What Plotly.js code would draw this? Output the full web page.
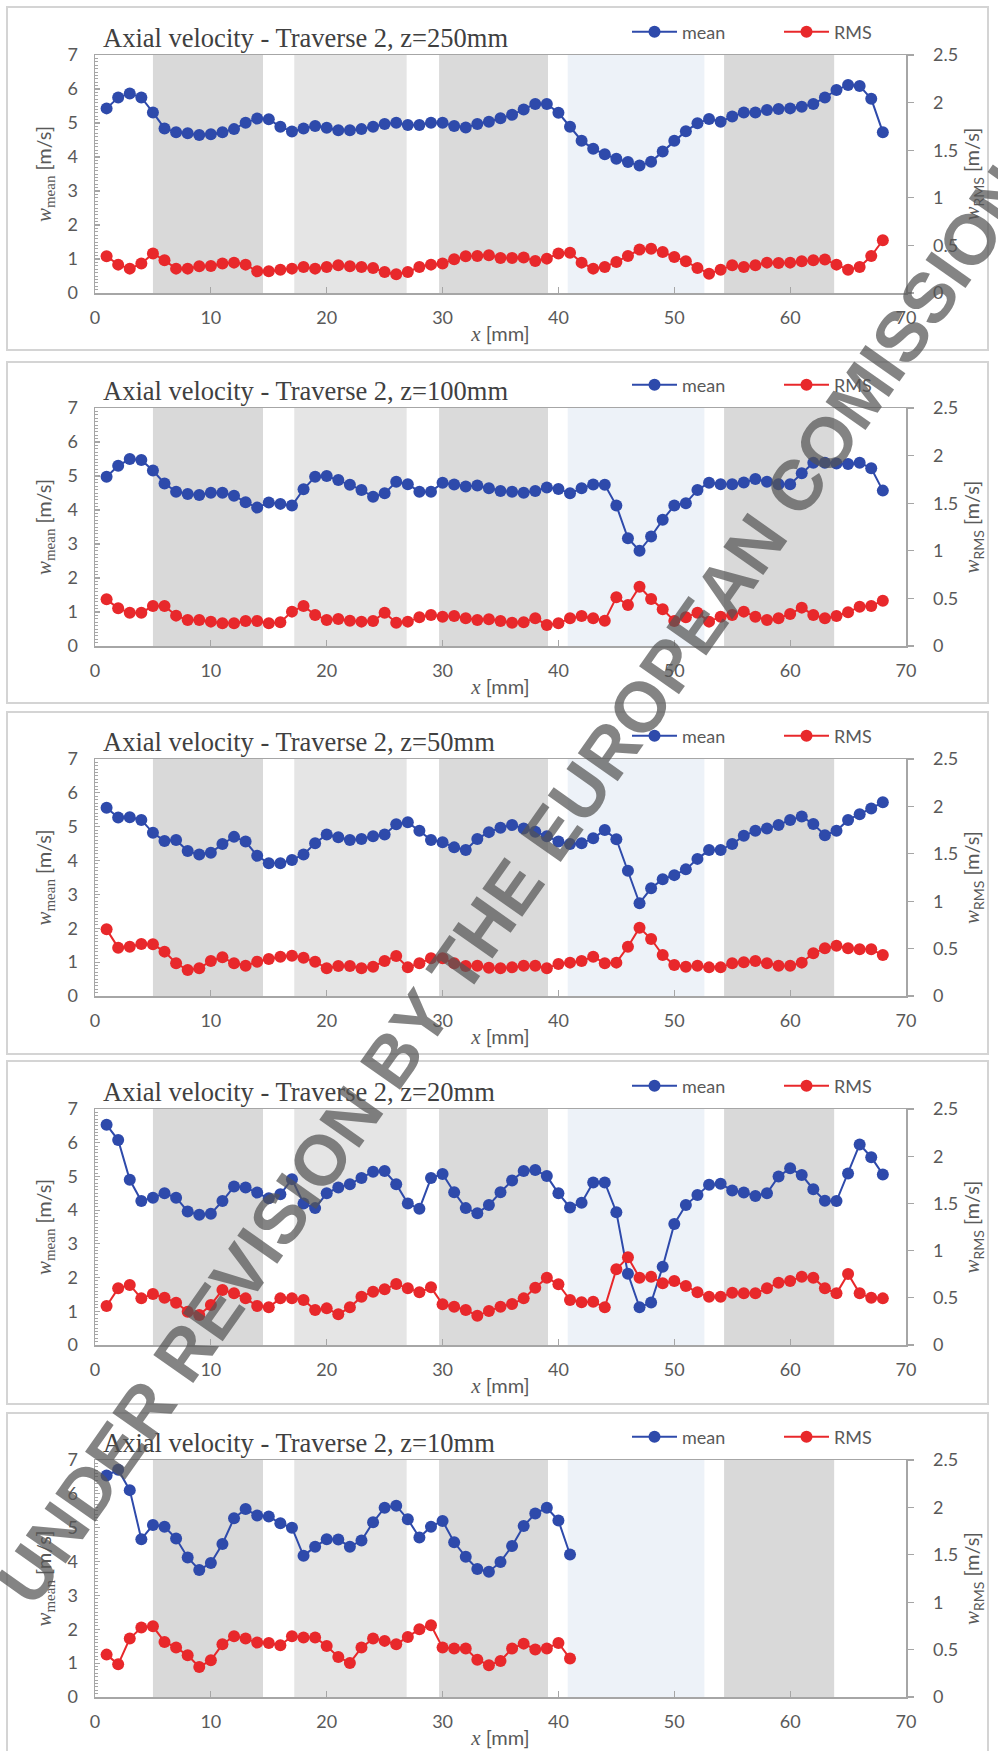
<!DOCTYPE html>
<html>
<head>
<meta charset="utf-8">
<script src="https://cdn.plot.ly/plotly-3.0.1.min.js"></script>
<style>
  html, body { margin: 0; padding: 0; background: #ffffff; overflow: hidden; }
  #chart { width: 998px; height: 1751px; }
</style>
</head>
<body>
<div id="chart"></div>
<script>
// Measurement positions across the traverse [mm]
const xPos = [1,2,3,4,5,6,7,8,9,10,11,12,13,14,15,16,17,18,19,20,
              21,22,23,24,25,26,27,28,29,30,31,32,33,34,35,36,37,38,39,40,
              41,42,43,44,45,46,47,48,49,50,51,52,53,54,55,56,57,58,59,60,
              61,62,63,64,65,66,67,68];

// z = 250 mm
const mean250 = [5.43,5.75,5.87,5.75,5.31,4.84,4.73,4.70,4.65,4.67,
                 4.73,4.82,5.01,5.13,5.11,4.89,4.75,4.84,4.91,4.86,
                 4.79,4.79,4.82,4.89,4.97,5.01,4.94,4.94,5.01,5.01,
                 4.91,4.87,4.97,5.04,5.14,5.24,5.40,5.56,5.56,5.30,
                 4.89,4.48,4.24,4.08,3.95,3.85,3.75,3.86,4.16,4.48,
                 4.76,4.99,5.12,5.04,5.19,5.31,5.31,5.38,5.41,5.43,
                 5.48,5.56,5.75,5.97,6.12,6.09,5.71,4.73];
const rms250 = [0.386,0.298,0.256,0.309,0.414,0.344,0.256,0.256,0.281,0.284,
                0.309,0.319,0.298,0.228,0.228,0.245,0.256,0.273,0.256,0.273,
                0.291,0.281,0.273,0.263,0.221,0.196,0.221,0.273,0.298,0.309,
                0.354,0.386,0.389,0.396,0.368,0.368,0.372,0.337,0.361,0.414,
                0.424,0.319,0.256,0.273,0.326,0.389,0.456,0.466,0.431,0.379,
                0.333,0.263,0.203,0.245,0.291,0.273,0.291,0.319,0.316,0.319,
                0.333,0.344,0.351,0.298,0.245,0.273,0.389,0.554];

// z = 100 mm
const mean100 = [4.98,5.30,5.50,5.47,5.16,4.78,4.54,4.47,4.44,4.51,
                 4.51,4.42,4.23,4.07,4.22,4.18,4.13,4.61,4.98,5.00,
                 4.88,4.74,4.59,4.39,4.49,4.83,4.76,4.54,4.54,4.80,
                 4.75,4.69,4.72,4.64,4.56,4.54,4.51,4.56,4.66,4.62,
                 4.49,4.64,4.75,4.74,4.13,3.17,2.80,3.22,3.71,4.13,
                 4.20,4.59,4.80,4.76,4.76,4.81,4.91,4.83,4.76,4.76,
                 5.08,5.39,5.39,5.37,5.35,5.39,5.23,4.57];
const rms100 = [0.490,0.396,0.350,0.350,0.420,0.420,0.319,0.273,0.273,0.256,
                0.238,0.238,0.263,0.263,0.238,0.249,0.361,0.420,0.326,0.273,
                0.284,0.266,0.256,0.263,0.350,0.245,0.256,0.301,0.326,0.308,
                0.315,0.291,0.273,0.280,0.263,0.245,0.249,0.291,0.221,0.238,
                0.291,0.315,0.291,0.266,0.511,0.431,0.623,0.494,0.385,0.263,
                0.301,0.350,0.256,0.308,0.326,0.361,0.308,0.273,0.291,0.336,
                0.403,0.326,0.291,0.315,0.354,0.413,0.420,0.476];

// z = 50 mm
const mean50 = [5.56,5.27,5.28,5.20,4.82,4.58,4.61,4.28,4.18,4.23,
                4.49,4.70,4.56,4.14,3.92,3.92,4.02,4.18,4.51,4.77,
                4.69,4.61,4.64,4.72,4.77,5.07,5.13,4.88,4.61,4.54,
                4.39,4.31,4.64,4.84,4.97,5.05,4.95,4.85,4.72,4.56,
                4.49,4.51,4.66,4.90,4.63,3.70,2.74,3.18,3.45,3.57,
                3.74,4.05,4.31,4.31,4.49,4.73,4.88,4.95,5.05,5.20,
                5.30,5.08,4.75,4.88,5.20,5.37,5.54,5.72];
const rms50 = [0.703,0.510,0.520,0.549,0.545,0.468,0.345,0.274,0.292,0.369,
               0.408,0.345,0.320,0.362,0.390,0.415,0.425,0.404,0.362,0.292,
               0.316,0.316,0.292,0.309,0.369,0.422,0.302,0.345,0.397,0.397,
               0.345,0.316,0.320,0.297,0.292,0.302,0.320,0.320,0.292,0.338,
               0.352,0.369,0.415,0.345,0.352,0.520,0.721,0.601,0.432,0.327,
               0.309,0.320,0.302,0.302,0.345,0.355,0.369,0.345,0.320,0.320,
               0.352,0.450,0.503,0.531,0.503,0.492,0.492,0.432];

// z = 20 mm
const mean20 = [6.53,6.08,4.90,4.27,4.37,4.50,4.37,3.96,3.86,3.89,
                4.27,4.70,4.67,4.52,4.35,4.47,4.92,4.20,4.06,4.50,
                4.67,4.77,4.95,5.14,5.16,4.77,4.20,4.04,4.95,5.07,
                4.53,4.06,3.91,4.15,4.53,4.88,5.16,5.19,5.01,4.50,
                4.08,4.22,4.82,4.82,3.94,2.11,1.12,1.26,2.32,3.59,
                4.15,4.45,4.75,4.78,4.58,4.52,4.42,4.50,5.00,5.24,
                5.04,4.62,4.28,4.27,5.09,5.95,5.57,5.06];
const rms20 = [0.413,0.600,0.636,0.494,0.540,0.501,0.448,0.353,0.318,0.424,
               0.583,0.547,0.494,0.413,0.399,0.494,0.494,0.477,0.371,0.388,
               0.325,0.399,0.512,0.565,0.590,0.646,0.600,0.558,0.611,0.431,
               0.406,0.371,0.311,0.360,0.406,0.434,0.494,0.607,0.713,0.643,
               0.477,0.452,0.459,0.399,0.802,0.929,0.713,0.724,0.653,0.678,
               0.625,0.558,0.512,0.512,0.554,0.547,0.547,0.600,0.660,0.678,
               0.724,0.713,0.600,0.547,0.752,0.547,0.501,0.494];

// z = 10 mm (traverse stops at 41 mm)
const mean10 = [6.54,6.71,6.11,4.66,5.08,5.03,4.68,4.12,3.75,3.96,
                4.52,5.28,5.55,5.36,5.33,5.13,5.00,4.17,4.44,4.66,
                4.65,4.44,4.62,5.16,5.59,5.65,5.25,4.71,5.03,5.20,
                4.57,4.14,3.78,3.70,3.99,4.46,5.05,5.42,5.59,5.21,
                4.21];
const rms10 = [0.447,0.345,0.616,0.732,0.746,0.581,0.521,0.440,0.317,0.387,
               0.556,0.641,0.616,0.574,0.570,0.546,0.641,0.627,0.627,0.539,
               0.423,0.359,0.521,0.616,0.592,0.556,0.634,0.715,0.757,0.521,
               0.511,0.511,0.394,0.335,0.380,0.511,0.563,0.500,0.511,0.570,
               0.405];

// Shaded regions along x [mm]
const bandStart = [5.0, 17.2, 29.7, 40.8, 54.3];
const bandEnd   = [14.5, 26.9, 39.1, 52.6, 63.8];
const bandFill  = ['#d9d9d9', '#e5e5e5', '#dadada', '#edf2f8', '#d9d9d9'];

const panelTitles = ['Axial velocity - Traverse 2, z=250mm',
                     'Axial velocity - Traverse 2, z=100mm',
                     'Axial velocity - Traverse 2, z=50mm',
                     'Axial velocity - Traverse 2, z=20mm',
                     'Axial velocity - Traverse 2, z=10mm'];
const meanSeries = [mean250, mean100, mean50, mean20, mean10];
const rmsSeries  = [rms250, rms100, rms50, rms20, rms10];

const xTicks = [0, 10, 20, 30, 40, 50, 60, 70];
const yTicksMean = [0, 1, 2, 3, 4, 5, 6, 7];
const yTicksRms = [0, 0.5, 1, 1.5, 2, 2.5];
const yTicksRmsText = ['0', '0.5', '1', '1.5', '2', '2.5'];

// ---- page geometry (pixels) ----
const W = 998, H = 1751;
const fx = v => v / W;
const fy = v => 1 - v / H;
const plotLeft = 95, plotRight = 906;
const plotTops = [55, 408, 759, 1109, 1460];
const plotBots = [293, 646, 996, 1345, 1697];
const frames = [[7, 350], [362, 703], [712, 1054], [1061, 1404], [1413, 1753]];

const BLUE = '#2e4aab';
const RED = '#e8282b';
const AXIS = '#a6a6a6';
const TXT = '#595959';
const SANS = 'Lato, "Open Sans", sans-serif';
const SERIF = '"Liberation Serif", "DejaVu Serif", serif';

const traces = [];
const layout = {
  width: W, height: H,
  margin: {l: 0, r: 0, t: 0, b: 0, autoexpand: false},
  paper_bgcolor: '#ffffff',
  plot_bgcolor: '#ffffff',
  shapes: [],
  annotations: [],
  font: {family: SANS, color: TXT}
};

const serifW = '<i><span style="font-family:Liberation Serif;font-size:21px">w</span></i>';
const yTitleL = serifW + '<sub><span style="font-family:Liberation Serif;font-size:15px">mean</span></sub> [m/s]';
const yTitleR = serifW + '<sub><span style="font-size:14px">RMS</span></sub> [m/s]';
const xTitle = '<i><span style="font-family:Liberation Serif;font-size:21px">x</span></i> [mm]';

for (let i = 0; i < 5; i++) {
  const xs = i === 0 ? '' : String(i + 1);
  const yl = 2 * i + 1 === 1 ? '' : String(2 * i + 1);
  const yr = String(2 * i + 2);
  const xRef = 'x' + xs, yLRef = 'y' + yl, yRRef = 'y' + yr;
  const legName = 'legend' + (i === 0 ? '' : String(i + 1));
  const n = meanSeries[i].length;
  const xv = xPos.slice(0, n);

  traces.push({
    x: xv, y: meanSeries[i], xaxis: xRef, yaxis: yLRef,
    type: 'scatter', mode: 'lines+markers', name: 'mean',
    line: {color: BLUE, width: 2}, marker: {color: BLUE, size: 12},
    legend: legName, showlegend: true, cliponaxis: false
  });
  traces.push({
    x: xv, y: rmsSeries[i], xaxis: xRef, yaxis: yRRef,
    type: 'scatter', mode: 'lines+markers', name: 'RMS',
    line: {color: RED, width: 2}, marker: {color: RED, size: 12},
    legend: legName, showlegend: true, cliponaxis: false
  });

  const dom = [fy(plotBots[i]), fy(plotTops[i])];

  layout['xaxis' + xs] = {
    domain: [fx(plotLeft), fx(plotRight)], anchor: yLRef,
    range: [0, 70], tickvals: xTicks, ticks: 'inside', ticklen: 6,
    tickcolor: AXIS, tickwidth: 1.2,
    showline: true, linecolor: AXIS, linewidth: 1.5, mirror: true,
    showgrid: false, zeroline: false, fixedrange: true,
    tickfont: {family: SANS, size: 18, color: TXT},
    ticklabelstandoff: 8,
    title: {text: xTitle, standoff: 0, font: {family: SANS, size: 20, color: TXT}}
  };
  layout['yaxis' + yl] = {
    domain: dom, anchor: xRef,
    range: [0, 7], tickvals: yTicksMean, ticks: 'inside', ticklen: 5,
    tickcolor: AXIS, tickwidth: 1.2,
    minor: {dtick: 0.1, ticks: 'inside', ticklen: 3, tickcolor: AXIS, tickwidth: 1},
    showline: true, linecolor: AXIS, linewidth: 1.5,
    showgrid: false, zeroline: false, fixedrange: true,
    tickfont: {family: SANS, size: 18, color: TXT},
    ticklabelstandoff: 12,
    title: {text: yTitleL, standoff: 10, font: {family: SANS, size: 20, color: TXT}}
  };
  layout['yaxis' + yr] = {
    domain: dom, anchor: xRef, overlaying: yLRef, side: 'right',
    range: [0, 2.5], tickvals: yTicksRms, ticktext: yTicksRmsText,
    ticks: 'outside', ticklen: 6, tickcolor: AXIS, tickwidth: 1.2,
    showline: true, linecolor: AXIS, linewidth: 1.5,
    showgrid: false, zeroline: false, fixedrange: true,
    tickfont: {family: SANS, size: 18, color: TXT},
    ticklabelstandoff: 16,
    title: {text: yTitleR, standoff: 8, font: {family: SANS, size: 20, color: TXT}}
  };

  layout[legName] = {
    orientation: 'h', x: fx(627), y: fy(plotTops[i] - 23),
    xanchor: 'left', yanchor: 'middle',
    bgcolor: 'rgba(0,0,0,0)', borderwidth: 0,
    entrywidth: 92, entrywidthmode: 'pixels', itemwidth: 45,
    traceorder: 'normal',
    font: {family: SANS, size: 18, color: TXT}
  };

  // shaded regions behind the data
  for (let b = 0; b < bandStart.length; b++) {
    layout.shapes.push({
      type: 'rect', layer: 'below', xref: xRef, yref: yLRef + ' domain',
      x0: bandStart[b], x1: bandEnd[b], y0: 0, y1: 1,
      fillcolor: bandFill[b], line: {width: 0}
    });
  }
  // panel frame
  layout.shapes.push({
    type: 'rect', layer: 'below', xref: 'paper', yref: 'paper',
    x0: fx(7), x1: fx(988), y0: fy(frames[i][1]), y1: fy(frames[i][0]),
    fillcolor: 'rgba(0,0,0,0)', line: {color: '#d4d4d4', width: 2}
  });
  // panel title
  layout.annotations.push({
    xref: 'paper', yref: 'paper', x: fx(101), y: fy(plotTops[i] - 17),
    xanchor: 'left', yanchor: 'middle', showarrow: false,
    text: panelTitles[i],
    font: {family: SERIF, size: 26.5, color: '#404040'}
  });
}

// diagonal review stamp across the page
layout.annotations.push({
  xref: 'paper', yref: 'paper', x: fx(514), y: fy(885),
  xanchor: 'center', yanchor: 'middle', showarrow: false,
  textangle: -54.8,
  text: 'UNDER REVISION BY THE EUROPEAN COMISSION',
  font: {family: '"Liberation Sans", Arial, sans-serif', size: 71, color: 'rgba(85,85,85,0.72)', weight: 700}
});

Plotly.newPlot('chart', traces, layout, {staticPlot: true, displayModeBar: false});
</script>
</body>
</html>
